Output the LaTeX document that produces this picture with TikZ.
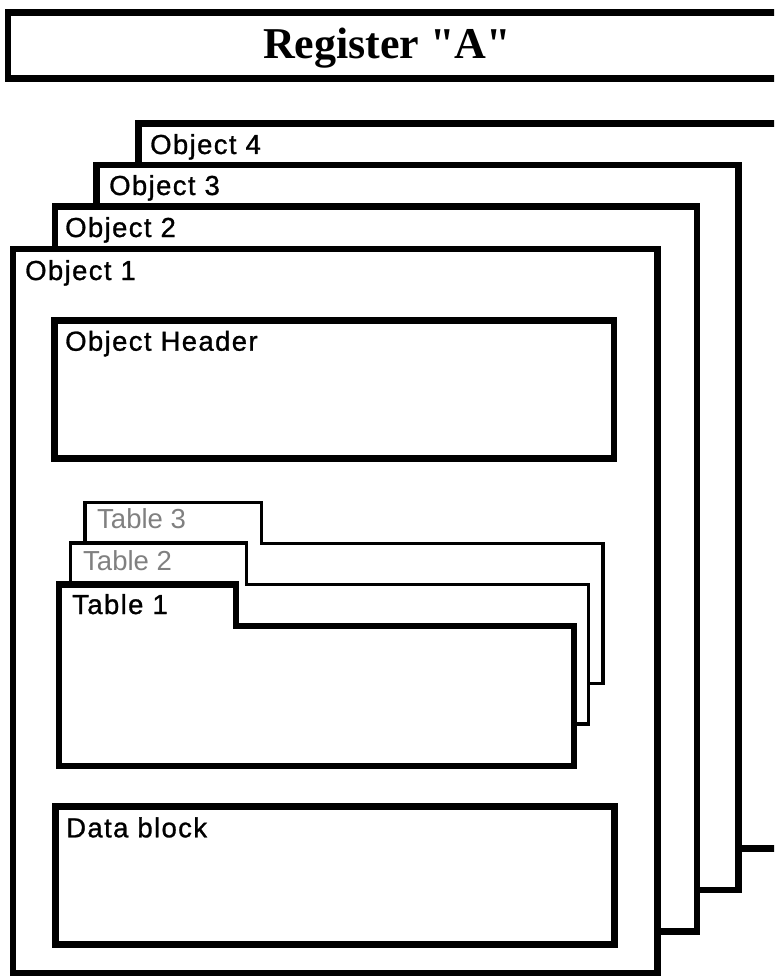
\documentclass[tikz,border=0pt]{standalone}
\usepackage{fontspec}
\setmainfont{Liberation Sans}
\newfontfamily\titlefont{Liberation Serif}
\newfontfamily\labfont[LetterSpace=5,FakeBold=1]{Liberation Sans}
\begin{document}
\begin{tikzpicture}[x=1pt,y=-1pt,
  thickbox/.style={draw=black,line width=6.5pt,fill=white,line join=miter},
  thinbox/.style={draw=black,line width=3.3pt,fill=white,line join=miter},
  lab/.style={anchor=base west,inner sep=0pt,font=\labfont\fontsize{27.5}{30}\selectfont},
  glab/.style={anchor=base west,inner sep=0pt,text=black!50,font=\fontsize{27.5}{30}\selectfont}]
\useasboundingbox (0,0) rectangle (774,976);
\clip (0,0) rectangle (774,976);
\fill[white] (0,0) rectangle (774,976);

% title
\draw[thickbox] (8,12.5) rectangle (800,78.5);
\node[anchor=base,inner sep=0pt,font=\titlefont\bfseries\fontsize{44}{48}\selectfont] (title) at (387,59) {Register "A"};

% objects, back to front
\draw[thickbox] (138.3,123.3) rectangle (800,848.3);
\node[lab] (o4) at (150,154) {Object 4};
\draw[thickbox] (96.3,165) rectangle (738.5,890);
\node[lab] (o3) at (109,195) {Object 3};
\draw[thickbox] (55,206.5) rectangle (697,931.7);
\node[lab] (o2) at (65,237) {Object 2};
\draw[thickbox] (13,249) rectangle (657.5,973);
\node[lab] (o1) at (25,280) {Object 1};

% object header
\draw[thickbox] (54.5,320.5) rectangle (614,458.5);
\node[lab] (hdr) at (65,350.7) {Object Header};

% tables
\draw[thinbox] (85,683.5) -- (85,502.5) -- (261.5,502.5) -- (261.5,543.7) -- (603,543.7) -- (603,683.5) -- cycle;
\node[glab] (t3) at (97,528.3) {Table 3};
\draw[thinbox] (70.5,724) -- (70.5,543) -- (246.5,543) -- (246.5,584.8) -- (588.3,584.8) -- (588.3,724) -- cycle;
\node[glab] (t2) at (83,570) {Table 2};
\draw[thickbox] (59,766) -- (59,584.5) -- (236,584.5) -- (236,626) -- (574,626) -- (574,766) -- cycle;
\node[lab] (t1) at (72,614) {Table 1};

% data block
\draw[thickbox] (55.5,806.3) rectangle (614.5,944.7);
\node[lab] (db) at (66,837.3) {Data block};
\end{tikzpicture}
\end{document}
